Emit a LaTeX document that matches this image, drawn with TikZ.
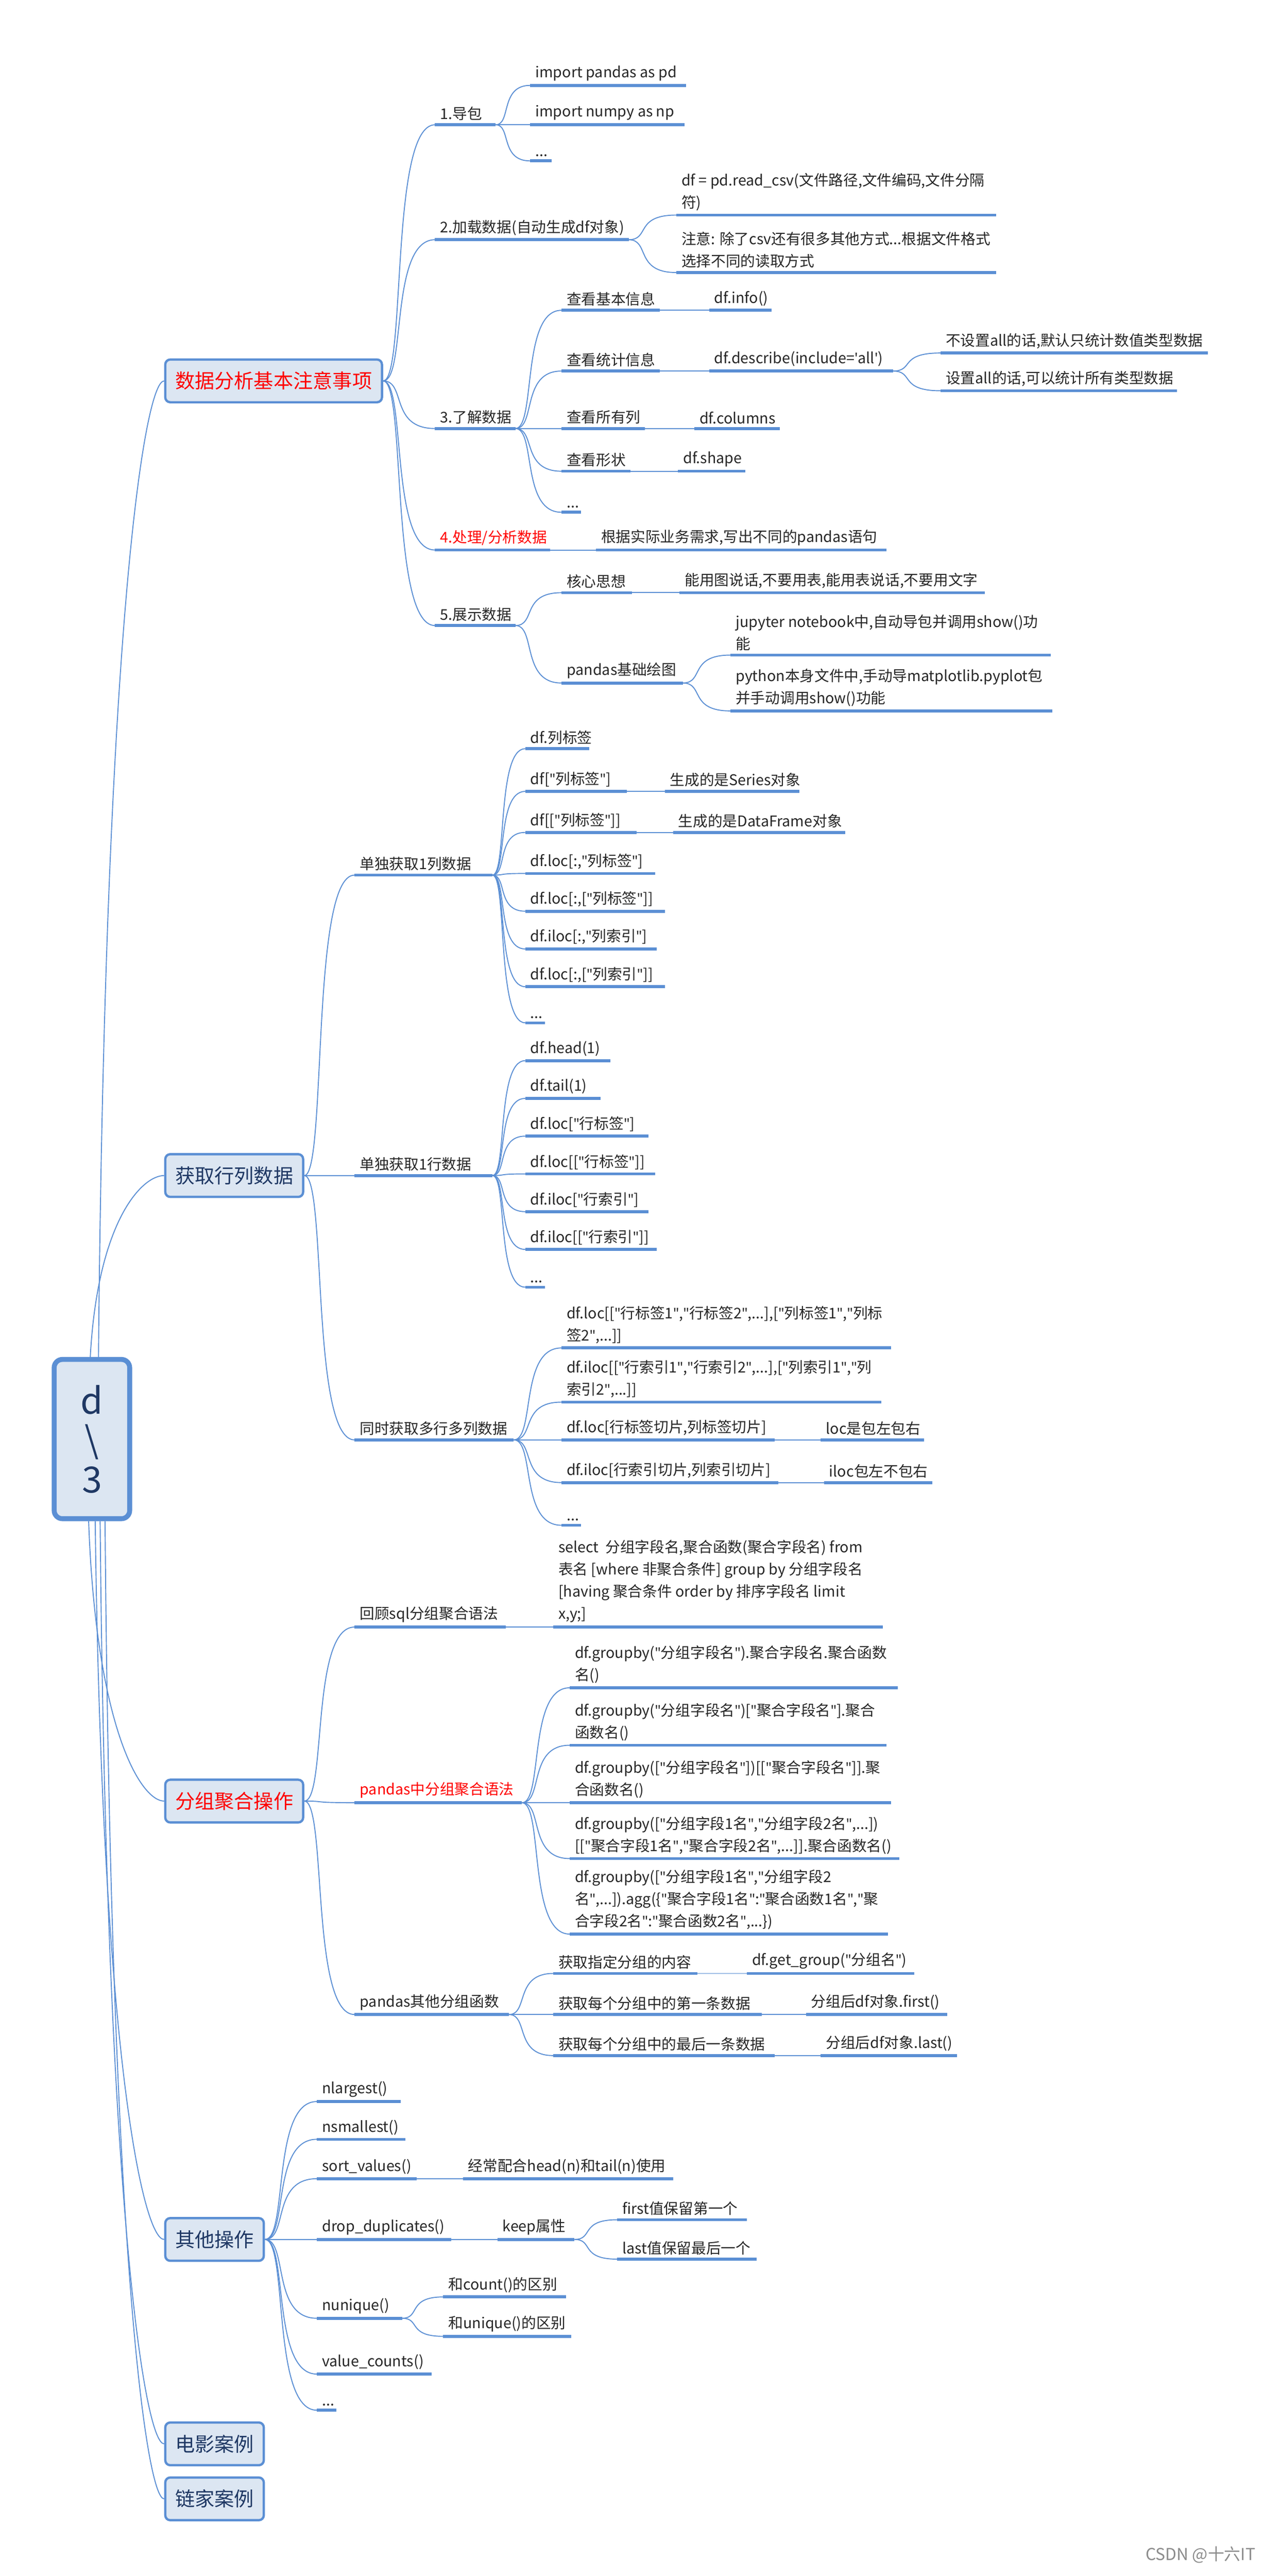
\documentclass[tikz,border=0pt]{standalone}
\usepackage{fontspec}
\setmainfont{Noto Sans CJK SC}
\newfontfamily\latinf{Noto Sans}
\newcommand\dq{{\latinf\char34\relax}}
\newcommand\sq{{\latinf\char39\relax}}
\usetikzlibrary{calc}
\definecolor{lb}{HTML}{5B8FD4}
\definecolor{bf}{HTML}{DCE6F2}
\definecolor{tx}{HTML}{262626}
\definecolor{nv}{HTML}{1F3864}
\definecolor{rd}{HTML}{FF0000}
\tikzset{
  uline/.style={draw=lb,line width=1.8pt},
  conn/.style={draw=lb,line width=0.6pt},
  lbl/.style={font=\fontsize{9}{13.5}\selectfont,text=tx,inner xsep=3pt,inner ysep=2.5pt,align=left},
  box/.style={draw=lb,fill=bf,line width=1.4pt,rounded corners=3pt,minimum height=26pt,font=\fontsize{12}{14}\selectfont,text=nv,inner xsep=6pt},
}
\newcommand\leaf[6][]{%
  \coordinate (#2s) at (#3,#5); \coordinate (#2e) at (#4,#5);
  \draw[uline] (#2s)--(#2e);
  \node[lbl,anchor=south west,#1] (#2) at (#3,#5) {#6};}
\newcommand\conn[2]{%
  \draw[conn] let \p1=(#1), \p2=(#2) in (\p1) .. controls ({\x1+0.45*(\x2-\x1)},{\y1}) and ({\x1+0.12*(\x2-\x1)},{\y2}) .. (\p2);}
\newcommand\rconn[2]{%
  \draw[conn] let \p1=(#1), \p2=(#2) in (\p1) .. controls ({\x1+0.1*(\x2-\x1)},{\y1+0.75*(\y2-\y1)}) and ({\x2-0.3*(\x2-\x1)},{\y2}) .. (\p2);}
{\catcode`\"=13 \gdef"{\dq}}
\begin{document}
\catcode`\"=13
\begin{tikzpicture}[x=1pt,y=-1pt]
\useasboundingbox (0,0) rectangle (770,1569);
\fill[white] (0,0) rectangle (770,1569);
% root
\node[draw=lb,fill=bf,line width=3pt,rounded corners=5pt,minimum width=46pt,minimum height=97pt,text=nv,font=\fontsize{22}{26}\selectfont,align=center] (root) at (56,876.5) {d\\[-2pt]\textbackslash\\[-2pt]3};
% level 1
\node[box,anchor=west,text=rd] (b1) at (100,232) {数据分析基本注意事项};
\node[box,anchor=west] (b2) at (100,716) {获取行列数据};
\node[box,anchor=west,text=rd] (b3) at (100,1097) {分组聚合操作};
\node[box,anchor=west] (b4) at (100,1364) {其他操作};
\node[box,anchor=west] (b5) at (100,1488.5) {电影案例};
\node[box,anchor=west] (b6) at (100,1522) {链家案例};
\coordinate (r1) at ($(root.north)+(4,0)$);
\coordinate (r2) at ($(root.north)+(-1,0)$);
\coordinate (r3) at ($(root.south)+(-2,0)$);
\coordinate (r4) at ($(root.south)+(2,0)$);
\coordinate (r5) at ($(root.south)+(5,0)$);
\coordinate (r6) at ($(root.south)+(8,0)$);
\rconn{r1}{b1.west}\rconn{r2}{b2.west}\rconn{r3}{b3.west}\rconn{r4}{b4.west}\rconn{r5}{b5.west}\rconn{r6}{b6.west}
\coordinate (b1e) at (b1.east);\coordinate (b2e) at (b2.east);\coordinate (b3e) at (b3.east);\coordinate (b4e) at (b4.east);
% ---- section 1
\leaf{a1}{265}{302}{76}{1.导包}
\leaf{a11}{323}{418}{52}{import pandas as pd}
\leaf{a12}{323}{417}{76}{import numpy as np}
\leaf{a13}{323}{336}{98}{...}
\leaf{a2}{265}{383}{146}{2.加载数据(自动生成df对象)}
\leaf{a21}{412}{607}{131}{df = pd.read\_csv(文件路径,文件编码,文件分隔\\符)}
\leaf{a22}{412}{607}{166}{注意: 除了csv还有很多其他方式...根据文件格式\\选择不同的读取方式}
\leaf{a3}{265}{314}{261}{3.了解数据}
\leaf{a31}{342}{402}{189}{查看基本信息}
\leaf{a311}{432}{470}{189}{df.info()}
\leaf{a32}{342}{402}{226}{查看统计信息}
\leaf{a321}{432}{544}{226}{df.describe(include=\sq all\sq)}
\leaf{a3211}{573}{736}{215}{不设置all的话,默认只统计数值类型数据}
\leaf{a3212}{573}{717}{238}{设置all的话,可以统计所有类型数据}
\leaf{a33}{342}{393}{261}{查看所有列}
\leaf{a331}{423}{475}{261}{df.columns}
\leaf{a34}{342}{384}{287}{查看形状}
\leaf{a341}{413}{454}{287}{df.shape}
\leaf{a35}{342}{354}{312}{...}
\leaf[text=rd]{a4}{265}{335}{335}{4.处理/分析数据}
\leaf{a41}{363}{540}{335}{根据实际业务需求,写出不同的pandas语句}
\leaf{a5}{265}{314}{381}{5.展示数据}
\leaf{a51}{342}{385}{361}{核心思想}
\leaf{a511}{414}{600}{361}{能用图说话,不要用表,能用表说话,不要用文字}
\leaf{a52}{342}{416}{416}{pandas基础绘图}
\leaf{a521}{445}{640}{399}{jupyter notebook中,自动导包并调用show()功\\能}
\leaf{a522}{445}{641}{433}{python本身文件中,手动导matplotlib.pyplot包\\并手动调用show()功能}
\foreach \c in {a1,a2,a3,a4,a5}{\conn{b1e}{\c s}}
\foreach \c in {a11,a12,a13}{\conn{a1e}{\c s}}
\foreach \c in {a21,a22}{\conn{a2e}{\c s}}
\foreach \c in {a31,a32,a33,a34,a35}{\conn{a3e}{\c s}}
\conn{a31e}{a311s}\conn{a32e}{a321s}\conn{a33e}{a331s}\conn{a34e}{a341s}
\conn{a321e}{a3211s}\conn{a321e}{a3212s}
\conn{a4e}{a41s}
\conn{a5e}{a51s}\conn{a5e}{a52s}\conn{a51e}{a511s}
\conn{a52e}{a521s}\conn{a52e}{a522s}
% ---- section 2
\leaf{c1}{216}{300}{533}{单独获取1列数据}
\leaf{c11}{320}{359}{456}{df.列标签}
\leaf{c12}{320}{382}{482}{df["列标签"]}
\leaf{c121}{405}{487}{482}{生成的是Series对象}
\leaf{c13}{320}{388}{507}{df[["列标签"]]}
\leaf{c131}{410}{515}{507}{生成的是DataFrame对象}
\leaf{c14}{320}{399}{532}{df.loc[:,"列标签"]}
\leaf{c15}{320}{405}{555}{df.loc[:,["列标签"]]}
\leaf{c16}{320}{400}{578}{df.iloc[:,"列索引"]}
\leaf{c17}{320}{405}{601}{df.loc[:,["列索引"]]}
\leaf{c18}{320}{332}{623}{...}
\leaf{c2}{216}{300}{716}{单独获取1行数据}
\leaf{c21}{320}{372}{646}{df.head(1)}
\leaf{c22}{320}{366}{669}{df.tail(1)}
\leaf{c23}{320}{395}{692}{df.loc["行标签"]}
\leaf{c24}{320}{399}{715}{df.loc[["行标签"]]}
\leaf{c25}{320}{395}{738}{df.iloc["行索引"]}
\leaf{c26}{320}{400}{761}{df.iloc[["行索引"]]}
\leaf{c27}{320}{332}{784}{...}
\leaf{c3}{216}{313}{877}{同时获取多行多列数据}
\leaf{c31}{342}{543}{821}{df.loc[["行标签1","行标签2",...],["列标签1","列标\\签2",...]]}
\leaf{c32}{342}{537}{854}{df.iloc[["行索引1","行索引2",...],["列索引1","列\\索引2",...]]}
\leaf{c33}{342}{472}{877}{df.loc[行标签切片,列标签切片]}
\leaf{c331}{500}{563}{877}{loc是包左包右}
\leaf{c34}{342}{474}{903}{df.iloc[行索引切片,列索引切片]}
\leaf{c341}{502}{568}{903}{iloc包左不包右}
\leaf{c35}{342}{354}{929}{...}
\foreach \c in {c1,c2,c3}{\conn{b2e}{\c s}}
\foreach \c in {c11,c12,c13,c14,c15,c16,c17,c18}{\conn{c1e}{\c s}}
\conn{c12e}{c121s}\conn{c13e}{c131s}
\foreach \c in {c21,c22,c23,c24,c25,c26,c27}{\conn{c2e}{\c s}}
\foreach \c in {c31,c32,c33,c34,c35}{\conn{c3e}{\c s}}
\conn{c33e}{c331s}\conn{c34e}{c341s}
% ---- section 3
\leaf{d1}{216}{308}{991}{回顾sql分组聚合语法}
\leaf{d11}{337}{538}{991}{select\ \ 分组字段名,聚合函数(聚合字段名) from\\表名 [where 非聚合条件] group by 分组字段名\\{[having} 聚合条件 order by 排序字段名 limit\\x,y;]}
\leaf[text=rd]{d2}{216}{318}{1098}{pandas中分组聚合语法}
\leaf{d21}{347}{547}{1028}{df.groupby("分组字段名").聚合字段名.聚合函数\\名()}
\leaf{d22}{347}{540}{1063}{df.groupby("分组字段名")["聚合字段名"].聚合\\函数名()}
\leaf{d23}{347}{543}{1098}{df.groupby(["分组字段名"])[["聚合字段名"]].聚\\合函数名()}
\leaf{d24}{347}{548}{1132}{df.groupby(["分组字段1名","分组字段2名",...])\\{[["聚合字段1名","聚合字段2名",...]].聚合函数名()}}
\leaf{d25}{347}{541}{1178}{df.groupby(["分组字段1名","分组字段2\\名",...]).agg(\{"聚合字段1名":"聚合函数1名","聚\\合字段2名":"聚合函数2名",...\})}
\leaf{d3}{216}{310}{1227}{pandas其他分组函数}
\leaf{d31}{337}{425}{1202}{获取指定分组的内容}
\leaf{d311}{455}{557}{1202}{df.get\_group("分组名")}
\leaf{d32}{337}{464}{1227}{获取每个分组中的第一条数据}
\leaf{d321}{491}{577}{1227}{分组后df对象.first()}
\leaf{d33}{337}{472}{1252}{获取每个分组中的最后一条数据}
\leaf{d331}{500}{583}{1252}{分组后df对象.last()}
\foreach \c in {d1,d2,d3}{\conn{b3e}{\c s}}
\conn{d1e}{d11s}
\foreach \c in {d21,d22,d23,d24,d25}{\conn{d2e}{\c s}}
\foreach \c in {d31,d32,d33}{\conn{d3e}{\c s}}
\conn{d31e}{d311s}\conn{d32e}{d321s}\conn{d33e}{d331s}
% ---- section 4
\leaf{e1}{193}{244}{1280}{nlargest()}
\leaf{e2}{193}{247}{1303}{nsmallest()}
\leaf{e3}{193}{254}{1327}{sort\_values()}
\leaf{e31}{282}{410}{1327}{经常配合head(n)和tail(n)使用}
\leaf{e4}{193}{275}{1364}{drop\_duplicates()}
\leaf{e41}{303}{350}{1364}{keep属性}
\leaf{e411}{376}{455}{1352}{first值保留第一个}
\leaf{e412}{376}{461}{1376}{last值保留最后一个}
\leaf{e5}{193}{245}{1412}{nunique()}
\leaf{e51}{270}{345}{1399}{和count()的区别}
\leaf{e52}{270}{348}{1423}{和unique()的区别}
\leaf{e6}{193}{263}{1446}{value\_counts()}
\leaf{e7}{193}{205}{1468}{...}
\foreach \c in {e1,e2,e3,e4,e5,e6,e7}{\conn{b4e}{\c s}}
\conn{e3e}{e31s}\conn{e4e}{e41s}\conn{e41e}{e411s}\conn{e41e}{e412s}
\conn{e5e}{e51s}\conn{e5e}{e52s}
% watermark
\node[anchor=east,text=black!45,font=\fontsize{10}{12}\selectfont,inner sep=0pt] (wm) at (765,1556) {CSDN @十六IT};
\end{tikzpicture}
\end{document}
